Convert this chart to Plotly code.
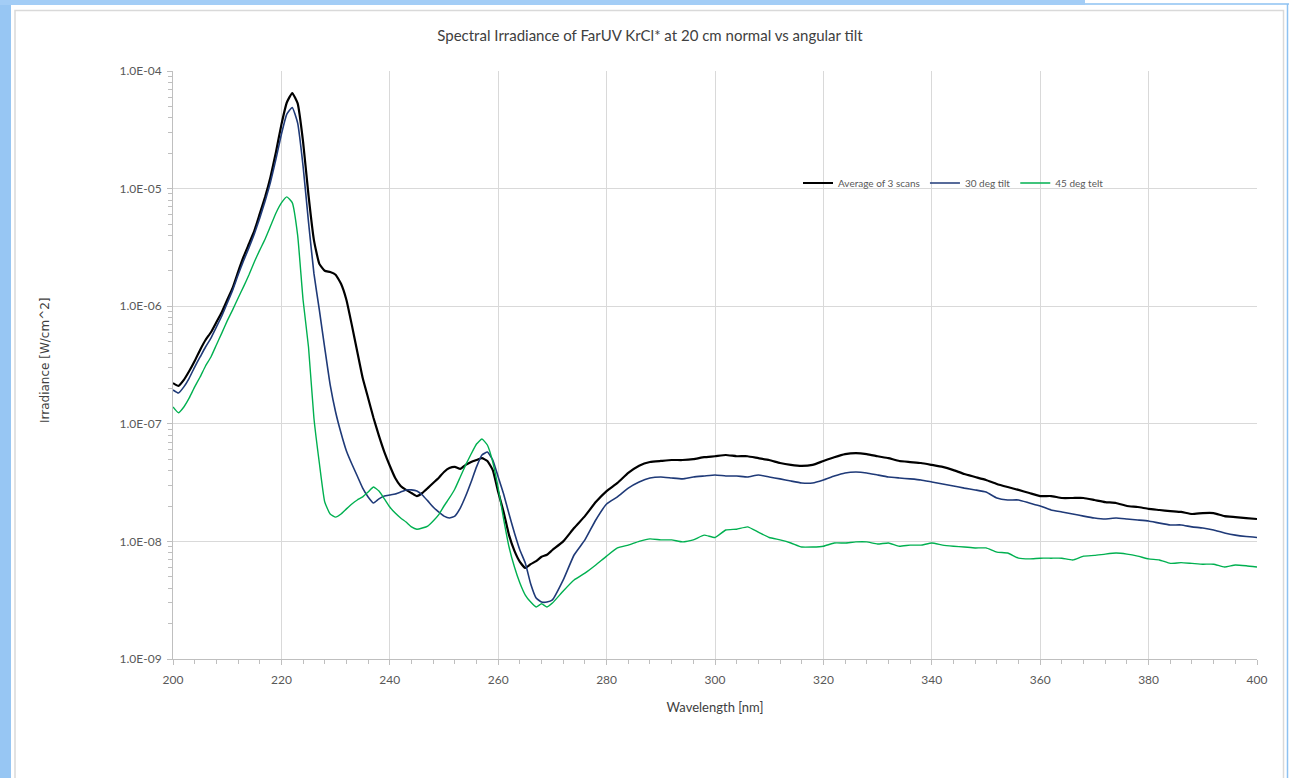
import plotly.graph_objects as go

wavelength = list(range(200, 271)) + list(range(272, 401, 2))

avg_3_scans = [
    2.22e-7, 2.10e-7, 2.36e-7, 2.81e-7, 3.42e-7, 4.25e-7, 5.16e-7, 6.0e-7, 7.3e-7, 8.9e-7,
    1.13e-6, 1.43e-6, 1.95e-6, 2.62e-6, 3.38e-6, 4.36e-6, 6.1e-6, 8.5e-6, 1.26e-5, 2.05e-5,
    3.5e-5, 5.4e-5, 6.5e-5, 5.3e-5, 2.5e-5, 8.8e-6, 3.65e-6, 2.29e-6, 2.0e-6, 1.95e-6,
    1.85e-6, 1.55e-6, 1.13e-6, 6.9e-7, 4.1e-7, 2.45e-7, 1.66e-7, 1.12e-7, 7.9e-8, 5.75e-8,
    4.4e-8, 3.46e-8, 2.96e-8, 2.74e-8, 2.58e-8, 2.43e-8, 2.58e-8, 2.84e-8, 3.14e-8, 3.46e-8,
    3.89e-8, 4.2e-8, 4.3e-8, 4.13e-8, 4.47e-8, 4.73e-8, 4.92e-8, 5.1e-8, 4.83e-8, 4.04e-8,
    2.63e-8, 1.78e-8, 1.13e-8, 8.3e-9, 6.7e-9, 5.94e-9, 6.4e-9, 6.8e-9, 7.4e-9, 7.7e-9,
    8.45e-9,
    1.0e-8, 1.3e-8, 1.64e-8, 2.16e-8, 2.68e-8, 3.14e-8, 3.82e-8, 4.4e-8, 4.73e-8, 4.83e-8,
    4.92e-8, 4.92e-8, 5.0e-8, 5.2e-8, 5.3e-8, 5.43e-8, 5.3e-8, 5.3e-8, 5.1e-8, 4.92e-8,
    4.64e-8, 4.47e-8, 4.38e-8, 4.47e-8, 4.83e-8, 5.2e-8, 5.53e-8, 5.64e-8, 5.53e-8, 5.3e-8,
    5.1e-8, 4.83e-8, 4.73e-8, 4.64e-8, 4.47e-8, 4.3e-8, 4.04e-8, 3.74e-8, 3.53e-8, 3.33e-8,
    3.08e-8, 2.9e-8, 2.74e-8, 2.58e-8, 2.43e-8, 2.43e-8, 2.34e-8, 2.34e-8, 2.34e-8, 2.25e-8,
    2.16e-8, 2.12e-8, 2.0e-8, 1.96e-8, 1.89e-8, 1.85e-8, 1.81e-8, 1.78e-8, 1.71e-8, 1.74e-8,
    1.74e-8, 1.64e-8, 1.61e-8, 1.58e-8, 1.55e-8,
]

tilt_30 = [
    1.94e-7, 1.83e-7, 2.06e-7, 2.45e-7, 3.04e-7, 3.7e-7, 4.5e-7, 5.36e-7, 6.65e-7, 8.26e-7,
    1.06e-6, 1.37e-6, 1.84e-6, 2.42e-6, 3.13e-6, 4.11e-6, 5.6e-6, 7.85e-6, 1.14e-5, 1.79e-5,
    2.9e-5, 4.3e-5, 4.9e-5, 3.6e-5, 1.55e-5, 5.2e-6, 1.9e-6, 9.3e-7, 4.4e-7, 2.14e-7,
    1.26e-7, 8.35e-8, 5.87e-8, 4.55e-8, 3.6e-8, 2.84e-8, 2.39e-8, 2.12e-8, 2.3e-8, 2.43e-8,
    2.48e-8, 2.53e-8, 2.63e-8, 2.74e-8, 2.74e-8, 2.68e-8, 2.48e-8, 2.21e-8, 1.96e-8, 1.78e-8,
    1.64e-8, 1.58e-8, 1.64e-8, 1.92e-8, 2.43e-8, 3.2e-8, 4.3e-8, 5.43e-8, 5.75e-8, 4.92e-8,
    3.53e-8, 2.53e-8, 1.71e-8, 1.18e-8, 8.45e-9, 6.55e-9, 4.34e-9, 3.3e-9, 3.05e-9, 3.05e-9,
    3.18e-9,
    4.7e-9, 7.66e-9, 1.03e-8, 1.52e-8, 2.08e-8, 2.39e-8, 2.84e-8, 3.2e-8, 3.46e-8, 3.53e-8,
    3.46e-8, 3.4e-8, 3.53e-8, 3.6e-8, 3.67e-8, 3.6e-8, 3.6e-8, 3.53e-8, 3.67e-8, 3.53e-8,
    3.4e-8, 3.26e-8, 3.14e-8, 3.14e-8, 3.33e-8, 3.6e-8, 3.82e-8, 3.89e-8, 3.82e-8, 3.67e-8,
    3.53e-8, 3.46e-8, 3.4e-8, 3.33e-8, 3.2e-8, 3.08e-8, 2.96e-8, 2.84e-8, 2.74e-8, 2.63e-8,
    2.34e-8, 2.25e-8, 2.25e-8, 2.12e-8, 2.0e-8, 1.85e-8, 1.78e-8, 1.71e-8, 1.64e-8, 1.58e-8,
    1.55e-8, 1.58e-8, 1.55e-8, 1.52e-8, 1.49e-8, 1.43e-8, 1.38e-8, 1.38e-8, 1.33e-8, 1.3e-8,
    1.25e-8, 1.18e-8, 1.13e-8, 1.1e-8, 1.08e-8,
]

tilt_45 = [
    1.39e-7, 1.24e-7, 1.39e-7, 1.66e-7, 2.06e-7, 2.5e-7, 3.1e-7, 3.7e-7, 4.68e-7, 5.9e-7,
    7.5e-7, 9.3e-7, 1.17e-6, 1.46e-6, 1.84e-6, 2.38e-6, 3.0e-6, 3.73e-6, 4.8e-6, 6.2e-6,
    7.55e-6, 8.5e-6, 7.6e-6, 4.0e-6, 1.13e-6, 4.5e-7, 1.12e-7, 4.64e-8, 2.16e-8, 1.71e-8,
    1.61e-8, 1.71e-8, 1.89e-8, 2.08e-8, 2.25e-8, 2.39e-8, 2.63e-8, 2.9e-8, 2.68e-8, 2.3e-8,
    1.96e-8, 1.74e-8, 1.58e-8, 1.46e-8, 1.33e-8, 1.27e-8, 1.3e-8, 1.35e-8, 1.49e-8, 1.68e-8,
    2.0e-8, 2.34e-8, 2.79e-8, 3.53e-8, 4.47e-8, 5.53e-8, 6.73e-8, 7.43e-8, 6.6e-8, 4.73e-8,
    2.84e-8, 1.55e-8, 8.96e-9, 6.05e-9, 4.43e-9, 3.5e-9, 3.05e-9, 2.77e-9, 2.95e-9, 2.77e-9,
    2.99e-9,
    3.79e-9, 4.7e-9, 5.37e-9, 6.3e-9, 7.5e-9, 8.8e-9, 9.3e-9, 1.0e-8, 1.05e-8, 1.03e-8,
    1.03e-8, 9.9e-9, 1.03e-8, 1.13e-8, 1.08e-8, 1.25e-8, 1.27e-8, 1.33e-8, 1.2e-8, 1.08e-8,
    1.03e-8, 9.7e-9, 8.96e-9, 8.96e-9, 9.1e-9, 9.7e-9, 9.7e-9, 9.9e-9, 9.9e-9, 9.5e-9,
    9.7e-9, 9.1e-9, 9.3e-9, 9.3e-9, 9.7e-9, 9.3e-9, 9.1e-9, 8.96e-9, 8.8e-9, 8.8e-9,
    8.1e-9, 7.96e-9, 7.2e-9, 7.1e-9, 7.2e-9, 7.2e-9, 7.2e-9, 6.95e-9, 7.5e-9, 7.6e-9,
    7.8e-9, 7.96e-9, 7.8e-9, 7.5e-9, 7.1e-9, 6.95e-9, 6.5e-9, 6.6e-9, 6.5e-9, 6.4e-9,
    6.4e-9, 6.05e-9, 6.3e-9, 6.2e-9, 6.05e-9,
]

series_names = ["Average of 3 scans", "30 deg tilt", "45 deg telt"]
y_tick_vals = [1e-9, 1e-8, 1e-7, 1e-6, 1e-5, 1e-4]
y_tick_text = ["1.0E-09", "1.0E-08", "1.0E-07", "1.0E-06", "1.0E-05", "1.0E-04"]

W, H = 1289, 778
L, R, T, B = 173, 1257, 71, 659
FONT = "Lato, Liberation Sans, sans-serif"
GREY = "#595959"

def px(xp):
    return (xp - L) / (R - L)

def py(yp):
    return (B - yp) / (B - T)

fig = go.Figure()
colors = ["#000000", "#1f3a78", "#00b050"]
widths = [2.2, 1.6, 1.4]
for name, ys, c, w in zip(series_names, [avg_3_scans, tilt_30, tilt_45], colors, widths):
    fig.add_trace(go.Scatter(x=wavelength, y=ys, mode="lines", name=name,
                             line=dict(color=c, width=w, shape="spline", smoothing=0.4)))

shapes = [
    dict(type="rect", xref="paper", yref="paper", x0=px(0), x1=px(11), y0=py(H + 5), y1=py(0),
         fillcolor="#97c6f3", line=dict(width=0), layer="below"),
    dict(type="rect", xref="paper", yref="paper", x0=px(0), x1=px(1085), y0=py(5), y1=py(0),
         fillcolor="#a3cdf6", line=dict(width=0), layer="below"),
    dict(type="line", xref="paper", yref="paper", x0=px(1085), x1=px(W), y0=py(4), y1=py(4),
         line=dict(color="#8ec2f2", width=1.5)),
    dict(type="line", xref="paper", yref="paper", x0=px(1287.5), x1=px(1287.5), y0=py(4), y1=py(H + 5),
         line=dict(color="#8ec2f2", width=1.5)),
    dict(type="rect", xref="paper", yref="paper", x0=px(15), x1=px(1283.5), y0=py(H + 5), y1=py(10.5),
         fillcolor="rgba(0,0,0,0)", line=dict(color="#d9d9d9", width=1.5), layer="below"),
]

fig.update_layout(
    width=W, height=H,
    margin=dict(l=L, r=W - R, t=T, b=H - B),
    paper_bgcolor="white", plot_bgcolor="white",
    font=dict(family=FONT, color=GREY, size=12),
    title=dict(text="Spectral Irradiance of FarUV KrCl* at 20 cm normal vs angular tilt",
               x=650 / W, y=1 - 36 / H, xanchor="center", yanchor="middle",
               font=dict(family=FONT, size=15, color="#404040")),
    showlegend=True,
    legend=dict(orientation="h", x=px(798), y=py(183), xanchor="left", yanchor="middle",
                font=dict(family=FONT, size=10, color=GREY), bgcolor="rgba(0,0,0,0)",
                itemwidth=30, tracegroupgap=0),
    shapes=shapes,
    annotations=[dict(text="Irradiance [W/cm^2]", xref="paper", yref="paper",
                      x=px(45), y=py(360), xanchor="center", yanchor="middle",
                      textangle=-90, showarrow=False,
                      font=dict(family="DejaVu Sans", size=12, color="#404040"))],
)

fig.update_xaxes(
    range=[200, 400], tick0=200, dtick=20,
    showgrid=True, gridcolor="#d9d9d9", gridwidth=1,
    showline=True, linecolor="#bfbfbf", linewidth=1,
    ticks="outside", ticklen=5, tickcolor="#bfbfbf",
    minor=dict(ticks="outside", ticklen=4, tickcolor="#bfbfbf", dtick=4, showgrid=False),
    tickfont=dict(family=FONT, size=12, color=GREY), ticklabelstandoff=5,
    title=dict(text="Wavelength [nm]", font=dict(family=FONT, size=13, color="#404040"), standoff=16),
    zeroline=False,
)
fig.update_yaxes(
    type="log", range=[-9, -4],
    tickmode="array", tickvals=y_tick_vals, ticktext=y_tick_text,
    showgrid=True, gridcolor="#d9d9d9", gridwidth=1,
    showline=True, linecolor="#bfbfbf", linewidth=1,
    ticks="outside", ticklen=5, tickcolor="#bfbfbf",
    minor=dict(ticks="outside", ticklen=4, tickcolor="#bfbfbf", dtick="D1", showgrid=False),
    tickfont=dict(family=FONT, size=12, color=GREY), ticklabelstandoff=3,
    zeroline=False,
)

fig.write_html("out.html", config={"displayModeBar": False},
               post_script="document.body.style.margin='0px';")
